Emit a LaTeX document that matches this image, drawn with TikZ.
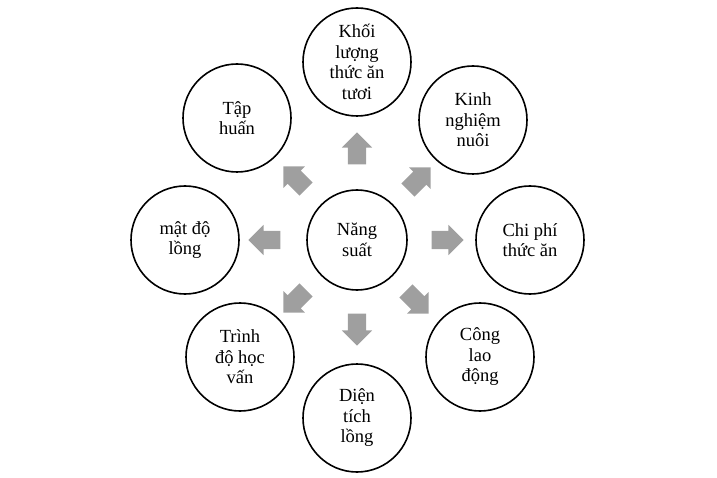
\documentclass[tikz,border=0pt]{standalone}
\usepackage{fontspec}
\setmainfont{Liberation Serif}
\usetikzlibrary{shapes.arrows}
\begin{document}
\begin{tikzpicture}[x=1pt,y=-1pt,
  circ/.style={draw,line width=1.6pt,circle,minimum size=#1,inner sep=1pt,align=center,font=\fontsize{18.5}{20.5}\selectfont},
  blockarrow/.style={single arrow,fill=gray!75,draw=none,minimum height=32pt,single arrow head extend=6pt,inner sep=9pt,rotate=#1}]
\useasboundingbox (0,0) rectangle (717,478);
\node[circ=100pt] (c) at (357,240) {Năng\\suất};
\node[circ=108pt] (n1) at (357,62) {Khối\\lượng\\thức ăn\\tươi};
\node[circ=108pt] (n2) at (473,120) {Kinh\\nghiệm\\nuôi};
\node[circ=108pt] (n3) at (530,240) {Chi phí\\thức ăn};
\node[circ=108pt] (n4) at (480,357) {Công\\lao\\động};
\node[circ=108pt] (n5) at (357,418) {Diện\\tích\\lồng};
\node[circ=108pt] (n6) at (240,357) {Trình\\độ học\\vấn};
\node[circ=108pt] (n7) at (185,240) {mật độ\\lồng};
\node[circ=108pt] (n8) at (237,118) {Tập\\huấn};
\node[blockarrow=90] (a1) at (357,153) {};
\node[blockarrow=45] (a2) at (416,182) {};
\node[blockarrow=0] (a3) at (443,240) {};
\node[blockarrow=-45] (a4) at (414,299) {};
\node[blockarrow=-90] (a5) at (357,325) {};
\node[blockarrow=-135] (a6) at (298,298) {};
\node[blockarrow=180] (a7) at (269,240) {};
\node[blockarrow=135] (a8) at (298,181) {};
\end{tikzpicture}
\end{document}
